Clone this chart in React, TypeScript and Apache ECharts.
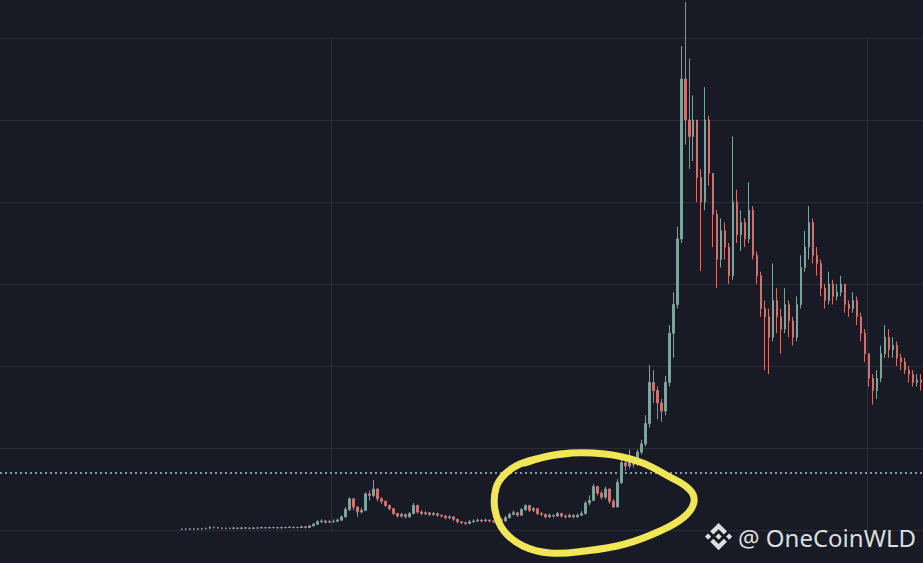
import React, { useEffect, useRef } from "react";
import * as echarts from "echarts";

// empty days before the first candle
const LEAD = 45;

// closing prices (open = previous close)
const closes = [
  0.1, 0.1, 0.15, 0.1, 0.15, 0.15, 0.2, 0.35, 0.3, 0.25,
  0.2, 0.2, 0.2, 0.25, 0.2, 0.25, 0.25, 0.2, 0.25, 0.25,
  0.3, 0.25, 0.3, 0.3, 0.25, 0.3, 0.3, 0.35, 0.3, 0.3,
  0.4, 0.3, 0.5, 0.7, 1.0, 1.1, 0.95, 1.0, 1.05, 1.2,
  1.6, 2.5, 3.8, 2.8, 2.2, 2.4, 4.4, 4.2, 5.0, 3.8,
  3.5, 3.0, 2.6, 2.0, 1.7, 1.9, 1.6, 2.0, 3.0, 2.2,
  2.0, 2.1, 1.9, 2.0, 1.8, 1.7, 1.5, 1.6, 1.3, 1.0,
  0.9, 0.8, 1.0, 1.1, 1.2, 1.1, 1.2, 1.1, 1.0, 1.3,
  1.1, 1.5, 1.9, 2.1, 1.8, 2.5, 3.0, 2.4, 2.6, 2.0,
  1.9, 1.6, 1.8, 1.7, 2.0, 1.7, 1.6, 1.8, 1.6, 1.8,
  2.0, 3.3, 3.6, 5.3, 4.5, 4.0, 5.0, 3.5, 2.8, 5.8,
  8.2, 7.8, 8.5, 8.0, 9.5, 10.5, 13.0, 18.0, 17.0, 15.5,
  14.5, 18.0, 24.0, 27.5, 35.5, 55.0, 50.0, 48.0, 50.0, 43.0,
  40.0, 50.0, 43.5, 38.5, 33.0, 36.5, 34.5, 31.0, 40.0, 36.0,
  37.5, 35.5, 39.0, 33.5, 31.0, 27.0, 26.0, 23.5, 28.0, 26.0,
  24.5, 27.5, 25.5, 23.5, 27.5, 32.0, 34.5, 37.5, 33.5, 32.5,
  29.5, 28.0, 30.0, 28.5, 29.0, 30.0, 27.5, 27.0, 28.0, 26.0,
  24.0, 21.5, 18.5, 17.0, 18.5, 21.5, 23.5, 22.0, 22.5, 21.0,
  20.5, 19.5, 19.0, 18.0, 18.3, 18.0,
];

const highs = [
  0.2, 0.2, 0.25, 0.2, 0.25, 0.25, 0.3, 0.45, 0.4, 0.35,
  0.3, 0.3, 0.3, 0.35, 0.3, 0.35, 0.35, 0.3, 0.35, 0.35,
  0.4, 0.35, 0.4, 0.4, 0.35, 0.4, 0.4, 0.45, 0.4, 0.4,
  0.5, 0.45, 0.6, 0.9, 1.2, 1.3, 1.2, 1.2, 1.3, 1.4,
  1.8, 2.8, 4.0, 3.9, 2.9, 2.7, 4.6, 4.8, 6.1, 5.1,
  4.0, 3.6, 3.1, 2.7, 2.1, 2.1, 2.0, 2.2, 3.3, 3.1,
  2.4, 2.3, 2.2, 2.2, 2.1, 1.9, 1.8, 1.8, 1.7, 1.4,
  1.1, 1.0, 1.2, 1.3, 1.4, 1.3, 1.4, 1.3, 1.2, 1.5,
  1.4, 1.7, 2.1, 2.4, 2.2, 2.7, 3.1, 3.0, 2.8, 2.7,
  2.2, 2.0, 2.0, 1.9, 2.2, 2.1, 1.9, 2.0, 1.9, 2.0,
  2.3, 3.5, 4.2, 5.6, 5.4, 4.8, 5.3, 5.1, 3.8, 6.2,
  8.6, 8.5, 9.8, 8.8, 9.8, 11.0, 14.0, 20.1, 19.5, 17.5,
  16.0, 18.8, 25.0, 29.0, 37.0, 59.0, 64.4, 57.5, 53.0, 49.0,
  44.0, 54.0, 50.5, 43.5, 39.0, 38.0, 37.5, 35.0, 48.0, 41.5,
  39.0, 38.0, 42.4, 39.5, 34.0, 31.5, 28.0, 27.0, 32.5, 29.5,
  27.0, 29.5, 28.0, 26.0, 28.5, 33.5, 36.5, 39.5, 38.0, 34.5,
  33.0, 30.0, 31.5, 30.5, 30.0, 31.0, 30.0, 28.0, 29.0, 28.5,
  26.5, 24.5, 21.5, 19.0, 19.5, 22.5, 25.0, 24.5, 23.5, 23.0,
  21.5, 21.0, 20.0, 19.5, 19.0, 19.0,
];

const lows = [
  0.0, 0.0, 0.05, 0.0, 0.05, 0.05, 0.1, 0.15, 0.2, 0.15,
  0.1, 0.1, 0.1, 0.15, 0.1, 0.15, 0.15, 0.1, 0.15, 0.15,
  0.2, 0.15, 0.2, 0.2, 0.15, 0.2, 0.2, 0.25, 0.2, 0.2,
  0.25, 0.2, 0.3, 0.45, 0.65, 0.9, 0.8, 0.85, 0.9, 1.0,
  1.1, 1.5, 2.3, 2.4, 1.6, 2.0, 2.3, 3.6, 4.0, 3.5,
  3.2, 2.8, 2.4, 1.8, 1.5, 1.5, 1.4, 1.5, 1.9, 2.0,
  1.8, 1.8, 1.7, 1.7, 1.6, 1.5, 1.3, 1.3, 1.1, 0.8,
  0.7, 0.6, 0.7, 0.9, 1.0, 0.9, 1.0, 0.9, 0.8, 0.9,
  0.9, 1.0, 1.4, 1.8, 1.6, 1.7, 2.3, 2.2, 2.2, 1.8,
  1.7, 1.4, 1.5, 1.5, 1.6, 1.5, 1.4, 1.5, 1.4, 1.5,
  1.7, 1.9, 3.0, 3.5, 4.2, 3.7, 3.8, 3.2, 2.7, 2.8,
  5.6, 7.2, 7.5, 7.6, 7.8, 9.2, 10.2, 12.5, 15.5, 13.5,
  13.2, 14.0, 17.5, 21.0, 27.0, 35.0, 47.0, 44.0, 45.0, 40.0,
  31.6, 39.0, 42.0, 34.5, 29.5, 32.0, 33.0, 30.0, 30.5, 35.0,
  34.0, 34.5, 35.0, 33.0, 30.0, 26.0, 19.5, 19.0, 23.0, 24.0,
  21.5, 24.0, 23.5, 22.5, 23.0, 27.0, 31.5, 33.0, 32.5, 31.0,
  28.5, 27.0, 27.5, 27.5, 28.0, 28.5, 26.5, 26.0, 26.5, 25.0,
  23.0, 20.5, 17.5, 15.3, 16.0, 18.0, 21.0, 21.0, 21.0, 20.0,
  19.5, 19.0, 18.0, 17.5, 17.5, 17.0,
];

// horizontal grid: 0..60 step 10 (no labels shown)
const Y_MIN = 0;
const Y_MAX = 60;
const Y_STEP = 10;
// current price line
const priceLine = 6.95;
// category indices where vertical grid lines fall
const periodStarts = [83, 217];

const watermark = "@ OneCoinWLD";

const LOGO_D =
  "M38.73 53.2L63.3 28.63L87.89 53.22L102.19 38.92L63.3 0L24.42 38.88ZM0 63.31L14.3 49.01L28.6 63.31L14.3 77.61ZM38.73 73.41L63.3 97.98L87.89 73.4L102.2 87.69L63.3 126.61L24.42 87.73L24.4 87.71ZM97.99 63.31L112.29 49.01L126.59 63.31L112.29 77.61ZM77.83 63.3L63.3 48.76L48.77 63.29L63.3 77.83Z";

let logoRegistered = false;

export default function App() {
  const ref = useRef<HTMLDivElement>(null);

  useEffect(() => {
    if (!ref.current) return;
    document.body.style.margin = "0";
    if (!logoRegistered) {
      echarts.graphic.registerShape("binanceLogo", echarts.graphic.extendPath(LOGO_D, {}));
      logoRegistered = true;
    }
    const chart = echarts.init(ref.current, null, { renderer: "svg" });

    const days = Array.from({ length: LEAD + closes.length }, (_, i) => `D${i + 1}`);
    const candles = closes.map((c, i) => {
      const o = i === 0 ? c : closes[i - 1];
      return [o, c, Math.min(lows[i], o, c), Math.max(highs[i], o, c)];
    });
    const empty = Array.from({ length: LEAD }, () => ["-", "-", "-", "-"]);

    const gridColor = "#2a2d38";
    const up = "#7ea39c";
    const down = "#cc7370";

    chart.setOption({
      animation: false,
      backgroundColor: "#181a25",
      grid: { left: 0, right: 0, top: 38, bottom: 33 },
      xAxis: {
        type: "category",
        data: days,
        boundaryGap: true,
        axisLine: { show: false },
        axisTick: { show: false },
        axisLabel: { show: false },
        splitLine: {
          show: true,
          interval: (index: number) => periodStarts.includes(index),
          lineStyle: { color: gridColor, width: 1 },
        },
      },
      yAxis: {
        type: "value",
        min: Y_MIN,
        max: Y_MAX,
        interval: Y_STEP,
        axisLine: { show: false },
        axisTick: { show: false },
        axisLabel: { show: false },
        splitLine: { show: true, lineStyle: { color: gridColor, width: 1 } },
      },
      series: [
        {
          type: "candlestick",
          clip: false,
          barWidth: 2,
          data: [...empty, ...candles],
          itemStyle: {
            color: up,
            color0: down,
            borderColor: up,
            borderColor0: down,
            borderWidth: 1,
          },
          markLine: {
            silent: true,
            symbol: ["none", "none"],
            label: { show: false },
            lineStyle: { color: "#7b9ca5", type: [2, 3], width: 2 },
            data: [{ yAxis: priceLine }],
          },
        },
      ],
      graphic: [
        {
          type: "polyline",
          z: 100,
          shape: {
            smooth: 0.4,
            points: [
              [525, 463], [560, 454], [605, 454], [640, 462], [668, 476],
              [689, 489], [694, 502], [684, 517], [660, 531], [625, 544],
              [585, 551], [550, 553], [523, 546], [504, 531], [495, 510],
              [496, 488], [505, 474], [520, 464], [545, 457], [572, 453],
            ],
          },
          style: { stroke: "#f1e655", lineWidth: 7, lineCap: "round", lineJoin: "round", fill: null },
        },
        {
          type: "binanceLogo",
          z: 100,
          x: 705,
          y: 523,
          scaleX: 0.215,
          scaleY: 0.215,
          style: { fill: "#dedede" },
        },
        {
          type: "text",
          z: 100,
          x: 738,
          y: 537,
          style: {
            text: watermark,
            fill: "#dedede",
            font: '24px "Noto Sans"',
            textVerticalAlign: "middle",
            textAlign: "left",
          },
        },
      ],
    });

    return () => {
      chart.dispose();
    };
  }, []);

  return (
    <div
      ref={ref}
      style={{ position: "fixed", left: 0, top: 0, width: 923, height: 563 }}
    />
  );
}
